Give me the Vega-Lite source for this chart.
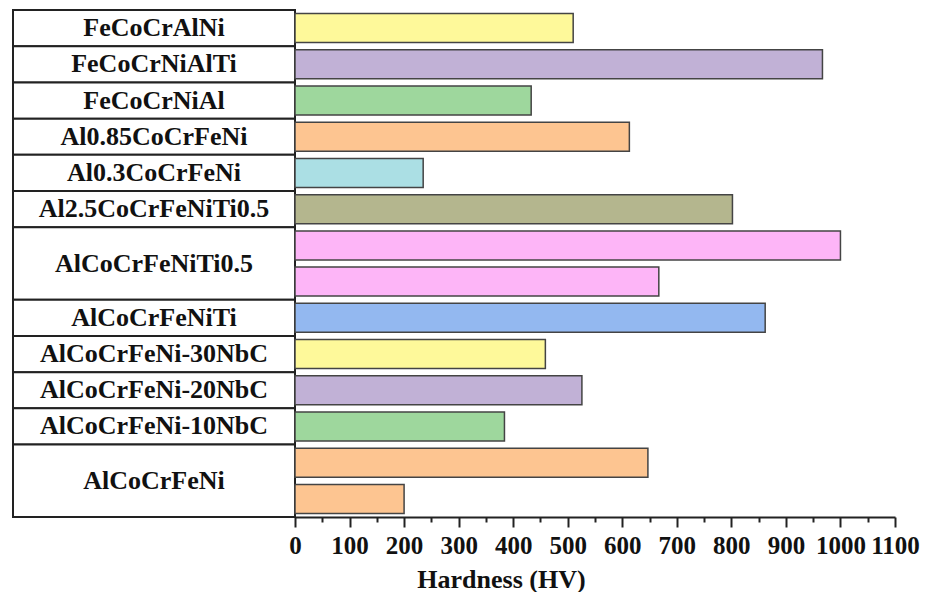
{
  "$schema": "https://vega.github.io/schema/vega-lite/v6.json",
  "background": "white",
  "padding": {"left": 12, "top": 9, "right": 0, "bottom": 0},
  "spacing": 0,
  "bounds": "flush",
  "config": {"view": {"stroke": null}, "concat": {"spacing": 0}},
  "datasets": {
    "bars": [
      {"slot": 0, "label": "FeCoCrAlNi", "hardness": 510},
      {"slot": 1, "label": "FeCoCrNiAlTi", "hardness": 967},
      {"slot": 2, "label": "FeCoCrNiAl", "hardness": 433},
      {"slot": 3, "label": "Al0.85CoCrFeNi", "hardness": 613},
      {"slot": 4, "label": "Al0.3CoCrFeNi", "hardness": 235},
      {"slot": 5, "label": "Al2.5CoCrFeNiTi0.5", "hardness": 802},
      {"slot": 6, "label": "AlCoCrFeNiTi0.5", "hardness": 1000},
      {"slot": 7, "label": "AlCoCrFeNiTi0.5", "hardness": 667},
      {"slot": 8, "label": "AlCoCrFeNiTi", "hardness": 862},
      {"slot": 9, "label": "AlCoCrFeNi-30NbC", "hardness": 459},
      {"slot": 10, "label": "AlCoCrFeNi-20NbC", "hardness": 526},
      {"slot": 11, "label": "AlCoCrFeNi-10NbC", "hardness": 384},
      {"slot": 12, "label": "AlCoCrFeNi", "hardness": 647},
      {"slot": 13, "label": "AlCoCrFeNi", "hardness": 200}
    ]
  },
  "hconcat": [
    {
      "width": 282,
      "height": 507,
      "data": {"name": "bars"},
      "transform": [
        {"aggregate": [
          {"op": "min", "field": "slot", "as": "first"},
          {"op": "max", "field": "slot", "as": "last"},
          {"op": "mean", "field": "slot", "as": "mid"}
        ], "groupby": ["label"]}
      ],
      "layer": [
        {
          "mark": {"type": "rect", "fill": "white", "stroke": "#222222", "strokeWidth": 2, "yOffset": -18.107, "y2Offset": 18.107},
          "encoding": {
            "y": {"field": "first", "type": "quantitative", "scale": {"domain": [-0.5, 13.5], "reverse": true, "nice": false, "zero": false}, "axis": null},
            "y2": {"field": "last"}
          }
        },
        {
          "mark": {"type": "text", "font": "Liberation Serif", "fontWeight": "bold", "fontSize": 26, "color": "#111111", "baseline": "middle", "align": "center"},
          "encoding": {
            "y": {"field": "mid", "type": "quantitative", "scale": {"domain": [-0.5, 13.5], "reverse": true, "nice": false, "zero": false}, "axis": null},
            "text": {"field": "label"}
          }
        }
      ]
    },
    {
      "width": 600,
      "height": 507,
      "data": {"name": "bars"},
      "mark": {"type": "bar", "stroke": "#444444", "strokeWidth": 1.5, "cornerRadius": 0},
      "encoding": {
        "y": {"field": "slot", "type": "ordinal", "scale": {"paddingInner": 0.2, "paddingOuter": 0.1}, "axis": null},
        "x": {
          "field": "hardness", "type": "quantitative",
          "scale": {"domain": [0, 1100], "nice": false},
          "axis": {
            "title": "Hardness (HV)",
            "values": [0, 50, 100, 150, 200, 250, 300, 350, 400, 450, 500, 550, 600, 650, 700, 750, 800, 850, 900, 950, 1000, 1050, 1100],
            "labelExpr": "datum.value % 100 === 0 ? datum.label : ''",
            "format": "d",
            "grid": false,
            "domainColor": "#222222", "domainWidth": 2,
            "tickColor": "#222222", "tickWidth": 2,
            "tickSize": {"condition": {"test": "datum.value % 100 === 0", "value": 10}, "value": 5},
            "labelFont": "Liberation Serif", "labelFontWeight": "bold", "labelFontSize": 25, "labelColor": "#111111",
            "labelPadding": 6, "labelOverlap": false, "labelFlush": false,
            "titleFont": "Liberation Serif", "titleFontWeight": "bold", "titleFontSize": 26, "titleColor": "#111111",
            "titlePadding": 8, "titleX": 206
          }
        },
        "color": {
          "field": "label", "type": "nominal", "legend": null,
          "scale": {
            "domain": ["FeCoCrAlNi", "FeCoCrNiAlTi", "FeCoCrNiAl", "Al0.85CoCrFeNi", "Al0.3CoCrFeNi", "Al2.5CoCrFeNiTi0.5", "AlCoCrFeNiTi0.5", "AlCoCrFeNiTi", "AlCoCrFeNi-30NbC", "AlCoCrFeNi-20NbC", "AlCoCrFeNi-10NbC", "AlCoCrFeNi"],
            "range": ["#FEF99A", "#C1B1D6", "#9ED79D", "#FDC591", "#ABDFE4", "#B4B68E", "#FDB5F7", "#93B8F0", "#FEF99A", "#C1B1D6", "#9ED79D", "#FDC591"]
          }
        }
      }
    }
  ]
}
